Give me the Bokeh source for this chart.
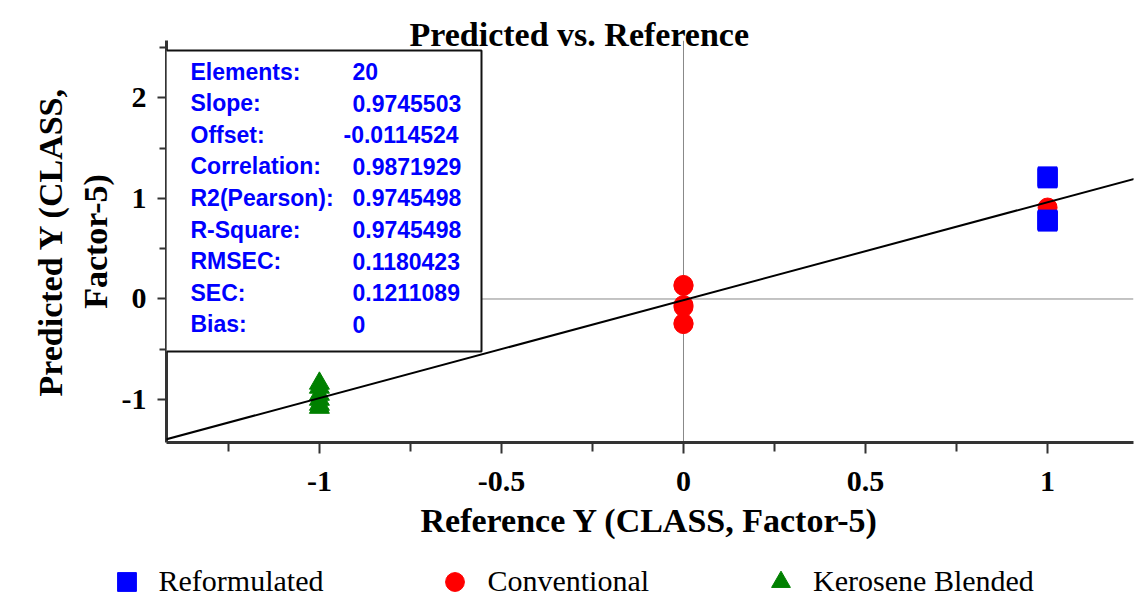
from bokeh.plotting import figure
from bokeh.layouts import column, row
from bokeh.models import (Range1d, FixedTicker, Span, Slope, Label, BoxAnnotation,
                          Legend, LegendItem)
from bokeh.embed import file_html
from bokeh.resources import INLINE

# ---------------- data ----------------
reform_x = [1, 1, 1, 1, 1, 1, 1]
reform_y = [1.22, 1.21, 1.20, 0.79, 0.78, 0.78, 0.77]
conv_x = [1, 0, 0, 0, 0, 0, 0]
conv_y = [0.91, 0.14, 0.13, -0.06, -0.08, -0.24, -0.25]
kero_x = [-1, -1, -1, -1, -1, -1]
kero_y = [-0.84, -0.88, -0.95, -1.00, -1.05, -1.08]

series_names = ["Reformulated", "Conventional", "Kerosene Blended"]
series_colors = ["#0000FF", "#FF0000", "#008000"]
series_markers = ["square", "circle", "triangle"]
series_x = [reform_x, conv_x, kero_x]
series_y = [reform_y, conv_y, kero_y]

stat_names = ["Elements:", "Slope:", "Offset:", "Correlation:", "R2(Pearson):",
              "R-Square:", "RMSEC:", "SEC:", "Bias:"]
stat_values = ["20", "0.9745503", "-0.0114524", "0.9871929", "0.9745498",
               "0.9745498", "0.1180423", "0.1211089", "0"]
slope = float(stat_values[1])
offset = float(stat_values[2])

x_ticks = [-1, -0.5, 0, 0.5, 1]
x_tick_labels = ["-1", "-0.5", "0", "0.5", "1"]
x_minor = [-1.25, -0.75, -0.25, 0.25, 0.75]
y_ticks = [-1, 0, 1, 2]
y_tick_labels = ["-1", "0", "1", "2"]
y_minor = [-0.5, 0.5, 1.5, 2.5]

title_text = "Predicted vs. Reference"
x_label = "Reference Y (CLASS, Factor-5)"
y_label = "Predicted Y (CLASS,\nFactor-5)"

SERIF = "Liberation Serif"
SANS = "Liberation Sans"

# ---------------- main figure ----------------
p = figure(width=1143, height=555, output_backend="svg", toolbar_location=None,
           x_range=Range1d(-1.420, 1.236), y_range=Range1d(-1.428, 2.572),
           min_border_left=166, min_border_right=10, min_border_top=40,
           min_border_bottom=113)
p.grid.visible = False
p.outline_line_color = None
p.background_fill_color = "white"
p.border_fill_color = "white"

# title
p.title.text = title_text
p.title.align = "left"
p.title.offset = 243
p.title.standoff = -24
p.title.text_font = SERIF
p.title.text_font_style = "bold"
p.title.text_font_size = "34px"
p.title.text_color = "black"

# axes
for ax in (p.xaxis[0], p.yaxis[0]):
    ax.axis_line_width = 3
    ax.axis_line_color = "#333333"
    ax.major_tick_line_width = 2
    ax.minor_tick_line_width = 2
    ax.major_tick_line_color = "#333333"
    ax.minor_tick_line_color = "#333333"
    ax.major_tick_in = 0
    ax.minor_tick_in = 0
    ax.major_label_text_font = SERIF
    ax.major_label_text_font_style = "bold"
    ax.major_label_text_font_size = "30px"
    ax.major_label_text_color = "black"
    ax.axis_label_text_font = SERIF
    ax.axis_label_text_font_style = "bold"
    ax.axis_label_text_font_size = "34px"
    ax.axis_label_text_color = "black"

xa = p.xaxis[0]
xa.ticker = FixedTicker(ticks=x_ticks, minor_ticks=x_minor)
xa.major_label_overrides = {t: l for t, l in zip(x_ticks, x_tick_labels)}
xa.major_tick_out = 11
xa.minor_tick_out = 9
xa.major_label_standoff = 18
xa.axis_label = x_label
xa.axis_label_standoff = 8

ya = p.yaxis[0]
ya.ticker = FixedTicker(ticks=y_ticks, minor_ticks=y_minor)
ya.major_label_overrides = {t: l for t, l in zip(y_ticks, y_tick_labels)}
ya.major_tick_out = 9
ya.minor_tick_out = 7
ya.major_label_standoff = 11
ya.axis_label = y_label
ya.axis_label_standoff = 5

# crosshair
p.add_layout(Span(location=0, dimension="height", line_color="#888888",
                  line_width=1, level="underlay"))
p.add_layout(Span(location=0, dimension="width", line_color="#888888",
                  line_width=1, level="underlay"))

# regression line
p.add_layout(Slope(gradient=slope, y_intercept=offset, line_color="black",
                   line_width=2))

# points (Conventional first so the blue squares sit on top, as in the source)
for k in (1, 0, 2):
    p.scatter(series_x[k], series_y[k], marker=series_markers[k],
              size=20 if series_markers[k] == "triangle" else 19,
              color=series_colors[k])

# stats box
p.add_layout(BoxAnnotation(left=165, right=481, top=50, bottom=351,
                           left_units="canvas", right_units="canvas",
                           top_units="canvas", bottom_units="canvas",
                           fill_color="white", fill_alpha=1.0,
                           line_color="#111111", line_alpha=1.0, line_width=2,
                           level="overlay"))
for i, (nm, vl) in enumerate(zip(stat_names, stat_values)):
    yy = 71 + i * 31.6
    p.add_layout(Label(x=190, y=yy, x_units="canvas", y_units="canvas", text=nm,
                       text_font=SANS, text_font_style="bold",
                       text_font_size="23px", text_color="#0000FF",
                       text_baseline="middle", text_align="left", level="overlay"))
    vx = 343 if vl.startswith("-") else 352
    p.add_layout(Label(x=vx, y=yy, x_units="canvas", y_units="canvas", text=vl,
                       text_font=SANS, text_font_style="bold",
                       text_font_size="23px", text_color="#0000FF",
                       text_baseline="middle", text_align="left", level="overlay"))

# ---------------- legend strip ----------------
# same series, drawn outside this strip's visible range; only the legend shows
lg = figure(width=1143, height=58, output_backend="svg", toolbar_location=None,
            x_range=Range1d(-1.420, 1.236), y_range=Range1d(50, 51),
            x_axis_type=None, y_axis_type=None, min_border=0)
lg.grid.visible = False
lg.outline_line_color = None
lg.background_fill_color = "white"
lg.border_fill_color = "white"
items = []
for nm, c, m, xs, ys in zip(series_names, series_colors, series_markers,
                            series_x, series_y):
    r = lg.scatter(xs, ys, marker=m, size=19, color=c)
    items.append(LegendItem(label=nm, renderers=[r]))
legend = Legend(items=items, orientation="horizontal", location=(102.5, 8.5),
                glyph_width=47, glyph_height=47, label_standoff=9,
                spacing=108, padding=0, margin=0,
                label_text_font=SERIF, label_text_font_size="30px",
                label_text_color="black", label_text_baseline="middle",
                border_line_color=None, background_fill_alpha=0)
lg.add_layout(legend)

layout = column(p, row(lg), spacing=0)
open("out.html", "w").write(file_html(layout, INLINE))
